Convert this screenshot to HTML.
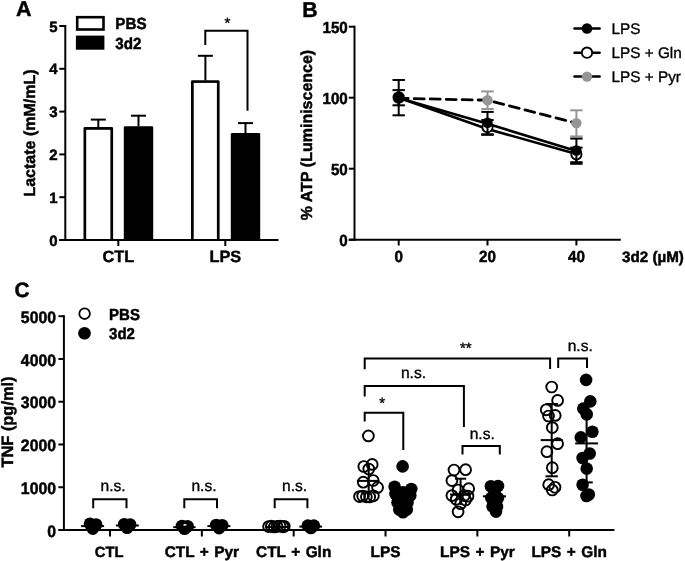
<!DOCTYPE html>
<html><head><meta charset="utf-8"><style>
html,body{margin:0;padding:0;background:#fff;}
svg{display:block;font-family:"Liberation Sans",sans-serif;-webkit-font-smoothing:antialiased;will-change:transform;filter:blur(0.45px);}
text{text-rendering:geometricPrecision;}
</style></head><body>
<svg width="685" height="561" viewBox="0 0 685 561">
<rect width="685" height="561" fill="#fff"/>
<text x="16" y="16" font-size="21.5" font-weight="bold" text-anchor="start" fill="#000" stroke="#000" stroke-width="0.45" >A</text>
<rect x="83.5" y="127.1" width="29.599999999999994" height="112.9" rx="1.3" fill="#000"/>
<rect x="86.2" y="129.79999999999998" width="24.199999999999996" height="110.2" fill="#fff"/>
<rect x="123.8" y="126.2" width="29.39999999999999" height="113.8" rx="1.3" fill="#000"/>
<rect x="191.0" y="80.2" width="28.599999999999994" height="159.8" rx="1.3" fill="#000"/>
<rect x="193.7" y="82.9" width="23.199999999999996" height="157.10000000000002" fill="#fff"/>
<rect x="230.8" y="132.9" width="29.399999999999977" height="107.1" rx="1.3" fill="#000"/>
<line x1="98.3" y1="127.5" x2="98.3" y2="119.6" stroke="#000" stroke-width="2" />
<line x1="90.8" y1="119.6" x2="105.8" y2="119.6" stroke="#000" stroke-width="2" />
<line x1="138.5" y1="126.5" x2="138.5" y2="115.7" stroke="#000" stroke-width="2" />
<line x1="131.0" y1="115.7" x2="146.0" y2="115.7" stroke="#000" stroke-width="2" />
<line x1="205.4" y1="80.5" x2="205.4" y2="55.8" stroke="#000" stroke-width="2" />
<line x1="197.9" y1="55.8" x2="212.9" y2="55.8" stroke="#000" stroke-width="2" />
<line x1="245.5" y1="133.2" x2="245.5" y2="123.1" stroke="#000" stroke-width="2" />
<line x1="238.0" y1="123.1" x2="253.0" y2="123.1" stroke="#000" stroke-width="2" />
<line x1="65.3" y1="25.0" x2="65.3" y2="241.0" stroke="#000" stroke-width="2" />
<line x1="59.3" y1="240.0" x2="65.3" y2="240.0" stroke="#000" stroke-width="2" />
<text x="57.6" y="245.6" font-size="15" font-weight="bold" text-anchor="end" fill="#000" stroke="#000" stroke-width="0.45" >0</text>
<line x1="59.3" y1="197.2" x2="65.3" y2="197.2" stroke="#000" stroke-width="2" />
<text x="57.6" y="202.79999999999998" font-size="15" font-weight="bold" text-anchor="end" fill="#000" stroke="#000" stroke-width="0.45" >1</text>
<line x1="59.3" y1="154.4" x2="65.3" y2="154.4" stroke="#000" stroke-width="2" />
<text x="57.6" y="160.0" font-size="15" font-weight="bold" text-anchor="end" fill="#000" stroke="#000" stroke-width="0.45" >2</text>
<line x1="59.3" y1="111.6" x2="65.3" y2="111.6" stroke="#000" stroke-width="2" />
<text x="57.6" y="117.19999999999999" font-size="15" font-weight="bold" text-anchor="end" fill="#000" stroke="#000" stroke-width="0.45" >3</text>
<line x1="59.3" y1="68.80000000000001" x2="65.3" y2="68.80000000000001" stroke="#000" stroke-width="2" />
<text x="57.6" y="74.4" font-size="15" font-weight="bold" text-anchor="end" fill="#000" stroke="#000" stroke-width="0.45" >4</text>
<line x1="59.3" y1="26.0" x2="65.3" y2="26.0" stroke="#000" stroke-width="2" />
<text x="57.6" y="31.6" font-size="15" font-weight="bold" text-anchor="end" fill="#000" stroke="#000" stroke-width="0.45" >5</text>
<line x1="59.3" y1="240.0" x2="278.5" y2="240.0" stroke="#000" stroke-width="2" />
<line x1="118.3" y1="240.0" x2="118.3" y2="246" stroke="#000" stroke-width="2" />
<text x="118.3" y="262.2" font-size="16.3" font-weight="bold" text-anchor="middle" fill="#000" stroke="#000" stroke-width="0.45" >CTL</text>
<line x1="225.3" y1="240.0" x2="225.3" y2="246" stroke="#000" stroke-width="2" />
<text x="225.3" y="262.2" font-size="16.3" font-weight="bold" text-anchor="middle" fill="#000" stroke="#000" stroke-width="0.45" >LPS</text>
<path d="M205.3,45 V30.7 H247.5 V110.7" fill="none" stroke="#000" stroke-width="2"/>
<text x="227.5" y="27.6" font-size="15"  text-anchor="middle" fill="#000" stroke="#000" stroke-width="0.35" >*</text>
<rect x="75.9" y="15.9" width="28.9" height="14.9" fill="#000"/>
<rect x="78.5" y="18.5" width="23.7" height="9.7" fill="#fff"/>
<rect x="75.9" y="35.6" width="28.5" height="14.1" fill="#000"/>
<text x="0" y="0" font-size="15.2" font-weight="bold" text-anchor="start" stroke="#000" stroke-width="0.45" transform="translate(115.3,29.3) scale(1,1.05)">PBS</text>
<text x="0" y="0" font-size="15.2" font-weight="bold" text-anchor="start" stroke="#000" stroke-width="0.45" transform="translate(115.3,48.9) scale(1,1.05)">3d2</text>
<text x="0" y="0" font-size="16" font-weight="bold" text-anchor="middle" stroke="#000" stroke-width="0.45" transform="translate(35.3,133) rotate(-90)">Lactate (mM/mL)</text>
<text x="302.3" y="16.9" font-size="21.3" font-weight="bold" text-anchor="start" fill="#000" stroke="#000" stroke-width="0.45" >B</text>
<line x1="354.5" y1="25.7" x2="354.5" y2="240.7" stroke="#000" stroke-width="2" />
<line x1="348.8" y1="239.7" x2="354.5" y2="239.7" stroke="#000" stroke-width="2" />
<text x="0" y="0" font-size="15.2" font-weight="bold" text-anchor="end" stroke="#000" stroke-width="0.45" transform="translate(347.8,245.6) scale(1,1.06)">0</text>
<line x1="348.8" y1="168.7" x2="354.5" y2="168.7" stroke="#000" stroke-width="2" />
<text x="0" y="0" font-size="15.2" font-weight="bold" text-anchor="end" stroke="#000" stroke-width="0.45" transform="translate(347.8,174.6) scale(1,1.06)">50</text>
<line x1="348.8" y1="97.69999999999999" x2="354.5" y2="97.69999999999999" stroke="#000" stroke-width="2" />
<text x="0" y="0" font-size="15.2" font-weight="bold" text-anchor="end" stroke="#000" stroke-width="0.45" transform="translate(347.8,103.6) scale(1,1.06)">100</text>
<line x1="348.8" y1="26.69999999999999" x2="354.5" y2="26.69999999999999" stroke="#000" stroke-width="2" />
<text x="0" y="0" font-size="15.2" font-weight="bold" text-anchor="end" stroke="#000" stroke-width="0.45" transform="translate(347.8,32.59999999999999) scale(1,1.06)">150</text>
<line x1="348.8" y1="239.7" x2="620.8" y2="239.7" stroke="#000" stroke-width="2" />
<line x1="398.7" y1="239.7" x2="398.7" y2="245.5" stroke="#000" stroke-width="2" />
<text x="0" y="0" font-size="15.2" font-weight="bold" text-anchor="middle" stroke="#000" stroke-width="0.45" transform="translate(398.7,261.7) scale(1,1.06)">0</text>
<line x1="487.5" y1="239.7" x2="487.5" y2="245.5" stroke="#000" stroke-width="2" />
<text x="0" y="0" font-size="15.2" font-weight="bold" text-anchor="middle" stroke="#000" stroke-width="0.45" transform="translate(487.5,261.7) scale(1,1.06)">20</text>
<line x1="576.4" y1="239.7" x2="576.4" y2="245.5" stroke="#000" stroke-width="2" />
<text x="0" y="0" font-size="15.2" font-weight="bold" text-anchor="middle" stroke="#000" stroke-width="0.45" transform="translate(576.4,261.7) scale(1,1.06)">40</text>
<text x="622" y="261.6" font-size="15.2" font-weight="bold" text-anchor="start" fill="#000" stroke="#000" stroke-width="0.45" >3d2 (µM)</text>
<text x="0" y="0" font-size="16" font-weight="bold" text-anchor="middle" stroke="#000" stroke-width="0.45" transform="translate(311.6,135) rotate(-90)">% ATP (Luminiscence)</text>
<line x1="487.5" y1="91.4" x2="487.5" y2="109.0" stroke="#959595" stroke-width="2" />
<line x1="481.3" y1="91.4" x2="493.7" y2="91.4" stroke="#959595" stroke-width="2" />
<line x1="481.3" y1="109.0" x2="493.7" y2="109.0" stroke="#959595" stroke-width="2" />
<line x1="576.4" y1="110.3" x2="576.4" y2="136.4" stroke="#959595" stroke-width="2" />
<line x1="570.1999999999999" y1="110.3" x2="582.6" y2="110.3" stroke="#959595" stroke-width="2" />
<line x1="570.1999999999999" y1="136.4" x2="582.6" y2="136.4" stroke="#959595" stroke-width="2" />
<polyline points="398.7,98.3 487.5,100.2 576.4,123.1" fill="none" stroke="#000" stroke-width="2.8" stroke-linecap="round" stroke-dasharray="10 6" stroke-dashoffset="0.5"/>
<circle cx="487.5" cy="100.2" r="5.2" fill="#959595" stroke="none" stroke-width="0"/>
<circle cx="576.4" cy="123.1" r="5.2" fill="#959595" stroke="none" stroke-width="0"/>
<polyline points="398.7,97.8 487.5,129.0 576.4,154.0" fill="none" stroke="#000" stroke-width="2.6"/>
<line x1="398.7" y1="90.1" x2="398.7" y2="105.3" stroke="#000" stroke-width="2" />
<line x1="392.5" y1="90.1" x2="404.9" y2="90.1" stroke="#000" stroke-width="2" />
<line x1="392.5" y1="105.3" x2="404.9" y2="105.3" stroke="#000" stroke-width="2" />
<line x1="487.5" y1="120.0" x2="487.5" y2="134.3" stroke="#000" stroke-width="2" />
<line x1="481.3" y1="120.0" x2="493.7" y2="120.0" stroke="#000" stroke-width="2" />
<line x1="481.3" y1="134.3" x2="493.7" y2="134.3" stroke="#000" stroke-width="2" />
<line x1="576.4" y1="147.6" x2="576.4" y2="162.2" stroke="#000" stroke-width="2" />
<line x1="570.1999999999999" y1="147.6" x2="582.6" y2="147.6" stroke="#000" stroke-width="2" />
<line x1="570.1999999999999" y1="162.2" x2="582.6" y2="162.2" stroke="#000" stroke-width="2" />
<circle cx="487.5" cy="127.2" r="5.1" fill="#fff" stroke="#000" stroke-width="1.9"/>
<circle cx="576.4" cy="154.4" r="5.1" fill="#fff" stroke="#000" stroke-width="1.9"/>
<polyline points="398.7,98.1 487.5,123.8 576.4,151.0" fill="none" stroke="#000" stroke-width="2.6"/>
<line x1="398.7" y1="80.0" x2="398.7" y2="115.3" stroke="#000" stroke-width="2" />
<line x1="392.5" y1="80.0" x2="404.9" y2="80.0" stroke="#000" stroke-width="2" />
<line x1="392.5" y1="115.3" x2="404.9" y2="115.3" stroke="#000" stroke-width="2" />
<line x1="487.5" y1="111.9" x2="487.5" y2="134.8" stroke="#000" stroke-width="2" />
<line x1="481.3" y1="111.9" x2="493.7" y2="111.9" stroke="#000" stroke-width="2" />
<line x1="481.3" y1="134.8" x2="493.7" y2="134.8" stroke="#000" stroke-width="2" />
<line x1="576.4" y1="138.6" x2="576.4" y2="163.8" stroke="#000" stroke-width="2" />
<line x1="570.1999999999999" y1="138.6" x2="582.6" y2="138.6" stroke="#000" stroke-width="2" />
<line x1="570.1999999999999" y1="163.8" x2="582.6" y2="163.8" stroke="#000" stroke-width="2" />
<circle cx="398.7" cy="97.5" r="6.2" fill="#000" stroke="none" stroke-width="0"/>
<circle cx="487.5" cy="122.8" r="5.2" fill="#000" stroke="none" stroke-width="0"/>
<circle cx="576.4" cy="150.5" r="5.2" fill="#000" stroke="none" stroke-width="0"/>
<line x1="574.5" y1="28.55" x2="599.6" y2="28.55" stroke="#000" stroke-width="2.5" stroke-linecap="round"/>
<circle cx="587" cy="28.55" r="5.3" fill="#000" stroke="none" stroke-width="0"/>
<text x="611.6" y="34.15" font-size="15.3"  text-anchor="start" fill="#000" stroke="#000" stroke-width="0.35" >LPS</text>
<line x1="574.5" y1="52.65" x2="599.6" y2="52.65" stroke="#000" stroke-width="2.5" stroke-linecap="round"/>
<circle cx="587" cy="52.65" r="5.2" fill="#fff" stroke="#000" stroke-width="1.9"/>
<text x="611.6" y="58.25" font-size="15.3"  text-anchor="start" fill="#000" stroke="#000" stroke-width="0.35" >LPS + Gln</text>
<line x1="574.5" y1="76.6" x2="599.6" y2="76.6" stroke="#000" stroke-width="2.5" stroke-linecap="round"/>
<circle cx="587" cy="76.6" r="5.2" fill="#959595" stroke="none" stroke-width="0"/>
<text x="611.6" y="82.19999999999999" font-size="15.3"  text-anchor="start" fill="#000" stroke="#000" stroke-width="0.35" >LPS + Pyr</text>
<text x="14.6" y="297.1" font-size="20.8" font-weight="bold" text-anchor="start" fill="#000" stroke="#000" stroke-width="0.45" >C</text>
<line x1="63.9" y1="315.2" x2="63.9" y2="531.0" stroke="#000" stroke-width="2" />
<line x1="58.4" y1="530.0" x2="63.9" y2="530.0" stroke="#000" stroke-width="2" />
<text x="0" y="0" font-size="15.8" font-weight="bold" text-anchor="end" stroke="#000" stroke-width="0.45" transform="translate(56,536.6) scale(1,1.05)">0</text>
<line x1="58.4" y1="487.24" x2="63.9" y2="487.24" stroke="#000" stroke-width="2" />
<text x="0" y="0" font-size="15.8" font-weight="bold" text-anchor="end" stroke="#000" stroke-width="0.45" transform="translate(56,493.84000000000003) scale(1,1.05)">1000</text>
<line x1="58.4" y1="444.48" x2="63.9" y2="444.48" stroke="#000" stroke-width="2" />
<text x="0" y="0" font-size="15.8" font-weight="bold" text-anchor="end" stroke="#000" stroke-width="0.45" transform="translate(56,451.08000000000004) scale(1,1.05)">2000</text>
<line x1="58.4" y1="401.72" x2="63.9" y2="401.72" stroke="#000" stroke-width="2" />
<text x="0" y="0" font-size="15.8" font-weight="bold" text-anchor="end" stroke="#000" stroke-width="0.45" transform="translate(56,408.32000000000005) scale(1,1.05)">3000</text>
<line x1="58.4" y1="358.96000000000004" x2="63.9" y2="358.96000000000004" stroke="#000" stroke-width="2" />
<text x="0" y="0" font-size="15.8" font-weight="bold" text-anchor="end" stroke="#000" stroke-width="0.45" transform="translate(56,365.56000000000006) scale(1,1.05)">4000</text>
<line x1="58.4" y1="316.2" x2="63.9" y2="316.2" stroke="#000" stroke-width="2" />
<text x="0" y="0" font-size="15.8" font-weight="bold" text-anchor="end" stroke="#000" stroke-width="0.45" transform="translate(56,322.8) scale(1,1.05)">5000</text>
<line x1="58.4" y1="530.0" x2="614.4" y2="530.0" stroke="#000" stroke-width="2" />
<line x1="110.0" y1="530.0" x2="110.0" y2="536.5" stroke="#000" stroke-width="2" />
<text x="109.2" y="556.5" font-size="14.8" font-weight="bold" text-anchor="middle" fill="#000" stroke="#000" stroke-width="0.45" >CTL</text>
<line x1="201.84" y1="530.0" x2="201.84" y2="536.5" stroke="#000" stroke-width="2" />
<text x="201.84" y="556.5" font-size="15.4" font-weight="bold" text-anchor="middle" fill="#000" stroke="#000" stroke-width="0.45" word-spacing="1.2">CTL + Pyr</text>
<line x1="293.68" y1="530.0" x2="293.68" y2="536.5" stroke="#000" stroke-width="2" />
<text x="293.68" y="556.5" font-size="15.4" font-weight="bold" text-anchor="middle" fill="#000" stroke="#000" stroke-width="0.45" word-spacing="1.2">CTL + Gln</text>
<line x1="385.52" y1="530.0" x2="385.52" y2="536.5" stroke="#000" stroke-width="2" />
<text x="385.52" y="556.5" font-size="15.4" font-weight="bold" text-anchor="middle" fill="#000" stroke="#000" stroke-width="0.45" >LPS</text>
<line x1="477.36" y1="530.0" x2="477.36" y2="536.5" stroke="#000" stroke-width="2" />
<text x="477.36" y="556.5" font-size="15.4" font-weight="bold" text-anchor="middle" fill="#000" stroke="#000" stroke-width="0.45" word-spacing="1.2">LPS + Pyr</text>
<line x1="569.2" y1="530.0" x2="569.2" y2="536.5" stroke="#000" stroke-width="2" />
<text x="569.2" y="556.5" font-size="15.4" font-weight="bold" text-anchor="middle" fill="#000" stroke="#000" stroke-width="0.45" word-spacing="1.2">LPS + Gln</text>
<text x="0" y="0" font-size="16.4" font-weight="bold" text-anchor="middle" stroke="#000" stroke-width="0.45" transform="translate(12.9,422) rotate(-90)">TNF (pg/ml)</text>
<circle cx="84.6" cy="313.7" r="5.3" fill="#fff" stroke="#000" stroke-width="1.8"/>
<circle cx="84.5" cy="333.2" r="6.3" fill="#000" stroke="none" stroke-width="0"/>
<text x="0" y="0" font-size="15" font-weight="bold" text-anchor="start" stroke="#000" stroke-width="0.45" transform="translate(109.1,319.5) scale(1,1.06)">PBS</text>
<text x="0" y="0" font-size="15" font-weight="bold" text-anchor="start" stroke="#000" stroke-width="0.45" transform="translate(109.1,338.7) scale(1,1.06)">3d2</text>
<path d="M93.2,508.3 V499.2 H126.5 V508.3" fill="none" stroke="#000" stroke-width="2"/>
<path d="M184.3,508.3 V499.2 H217 V508.3" fill="none" stroke="#000" stroke-width="2"/>
<path d="M274.7,508.3 V499.2 H307.4 V508.3" fill="none" stroke="#000" stroke-width="2"/>
<text x="113.1" y="491.3" font-size="15.6"  text-anchor="middle" fill="#000" stroke="#000" stroke-width="0.35" >n.s.</text>
<text x="204" y="491.3" font-size="15.6"  text-anchor="middle" fill="#000" stroke="#000" stroke-width="0.35" >n.s.</text>
<text x="294.6" y="491.3" font-size="15.6"  text-anchor="middle" fill="#000" stroke="#000" stroke-width="0.35" >n.s.</text>
<path d="M364.7,369.2 V358.5 H550.1 V368.9" fill="none" stroke="#000" stroke-width="2"/>
<text x="465.8" y="353.4" font-size="15"  text-anchor="middle" fill="#000" stroke="#000" stroke-width="0.35" >**</text>
<path d="M558.2,368 V358.5 H587 V368" fill="none" stroke="#000" stroke-width="2"/>
<text x="580.2" y="350.9" font-size="15.6"  text-anchor="middle" fill="#000" stroke="#000" stroke-width="0.35" >n.s.</text>
<path d="M364.7,396.6 V386.1 H463.9 V427" fill="none" stroke="#000" stroke-width="2"/>
<text x="413.5" y="378.1" font-size="15.6"  text-anchor="middle" fill="#000" stroke="#000" stroke-width="0.35" >n.s.</text>
<path d="M364.7,421.5 V412.7 H403.3 V450" fill="none" stroke="#000" stroke-width="2"/>
<text x="382.2" y="408.3" font-size="15"  text-anchor="middle" fill="#000" stroke="#000" stroke-width="0.35" >*</text>
<path d="M462.5,454.6 V446 H499.8 V454.6" fill="none" stroke="#000" stroke-width="2"/>
<text x="482.2" y="438.8" font-size="15.6"  text-anchor="middle" fill="#000" stroke="#000" stroke-width="0.35" >n.s.</text>
<line x1="81.1" y1="526.1" x2="104.1" y2="526.1" stroke="#000" stroke-width="2" />
<circle cx="90" cy="523.8" r="6.3" fill="#000" stroke="none" stroke-width="0"/>
<circle cx="96.1" cy="524.5" r="6.3" fill="#000" stroke="none" stroke-width="0"/>
<circle cx="92.8" cy="528.6" r="6.3" fill="#000" stroke="none" stroke-width="0"/>
<circle cx="93" cy="526" r="6.3" fill="#000" stroke="none" stroke-width="0"/>
<line x1="115.9" y1="525.5" x2="138.8" y2="525.5" stroke="#000" stroke-width="2" />
<circle cx="124.2" cy="524.2" r="6.3" fill="#000" stroke="none" stroke-width="0"/>
<circle cx="130.1" cy="524.5" r="6.3" fill="#000" stroke="none" stroke-width="0"/>
<circle cx="127.1" cy="527.8" r="6.3" fill="#000" stroke="none" stroke-width="0"/>
<circle cx="127" cy="525.5" r="6.3" fill="#000" stroke="none" stroke-width="0"/>
<line x1="173.2" y1="527.2" x2="195.6" y2="527.2" stroke="#000" stroke-width="2" />
<circle cx="182" cy="526" r="6.3" fill="#000" stroke="none" stroke-width="0"/>
<circle cx="187.6" cy="526.2" r="6.3" fill="#000" stroke="none" stroke-width="0"/>
<circle cx="184.6" cy="528.7" r="6.3" fill="#000" stroke="none" stroke-width="0"/>
<circle cx="184.8" cy="527" r="6.3" fill="#000" stroke="none" stroke-width="0"/>
<ellipse cx="184.9" cy="524.9" rx="1.7" ry="0.8" fill="#fff"/>
<line x1="207.4" y1="526.1" x2="230.4" y2="526.1" stroke="#000" stroke-width="2" />
<circle cx="216.2" cy="525" r="6.3" fill="#000" stroke="none" stroke-width="0"/>
<circle cx="222.2" cy="525.2" r="6.3" fill="#000" stroke="none" stroke-width="0"/>
<circle cx="219.1" cy="528.1" r="6.3" fill="#000" stroke="none" stroke-width="0"/>
<circle cx="219" cy="526.5" r="6.3" fill="#000" stroke="none" stroke-width="0"/>
<line x1="265" y1="527" x2="288" y2="527" stroke="#000" stroke-width="2" />
<circle cx="268.6" cy="526.6" r="5.4" fill="none" stroke="#000" stroke-width="1.9"/>
<circle cx="271.4" cy="526.2" r="5.4" fill="none" stroke="#000" stroke-width="1.9"/>
<circle cx="274.3" cy="527.0" r="5.4" fill="none" stroke="#000" stroke-width="1.9"/>
<circle cx="277.0" cy="526.4" r="5.4" fill="none" stroke="#000" stroke-width="1.9"/>
<circle cx="280.0" cy="526.0" r="5.4" fill="none" stroke="#000" stroke-width="1.9"/>
<circle cx="283.0" cy="526.8" r="5.4" fill="none" stroke="#000" stroke-width="1.9"/>
<circle cx="284.3" cy="526.3" r="5.4" fill="none" stroke="#000" stroke-width="1.9"/>
<line x1="299.4" y1="526.6" x2="322" y2="526.6" stroke="#000" stroke-width="2" />
<circle cx="307.8" cy="525.6" r="6.3" fill="#000" stroke="none" stroke-width="0"/>
<circle cx="313.9" cy="525.6" r="6.3" fill="#000" stroke="none" stroke-width="0"/>
<circle cx="310.9" cy="528" r="6.3" fill="#000" stroke="none" stroke-width="0"/>
<circle cx="311" cy="526.5" r="6.3" fill="#000" stroke="none" stroke-width="0"/>
<circle cx="368.4" cy="435.9" r="5.4" fill="none" stroke="#000" stroke-width="1.9"/>
<circle cx="363.8" cy="466.5" r="5.4" fill="none" stroke="#000" stroke-width="1.9"/>
<circle cx="372.2" cy="464.4" r="5.4" fill="none" stroke="#000" stroke-width="1.9"/>
<circle cx="368.8" cy="469" r="5.4" fill="none" stroke="#000" stroke-width="1.9"/>
<circle cx="363.3" cy="482.2" r="5.4" fill="none" stroke="#000" stroke-width="1.9"/>
<circle cx="373.2" cy="480.5" r="5.4" fill="none" stroke="#000" stroke-width="1.9"/>
<circle cx="377.6" cy="487.4" r="5.4" fill="none" stroke="#000" stroke-width="1.9"/>
<circle cx="359.5" cy="496.6" r="5.4" fill="none" stroke="#000" stroke-width="1.9"/>
<circle cx="362.7" cy="496" r="5.4" fill="none" stroke="#000" stroke-width="1.9"/>
<circle cx="366.4" cy="496.8" r="5.4" fill="none" stroke="#000" stroke-width="1.9"/>
<circle cx="369.7" cy="497" r="5.4" fill="none" stroke="#000" stroke-width="1.9"/>
<circle cx="373.4" cy="495.8" r="5.4" fill="none" stroke="#000" stroke-width="1.9"/>
<line x1="368.7" y1="463" x2="368.7" y2="497" stroke="#000" stroke-width="2" />
<line x1="356.9" y1="480.9" x2="379.2" y2="480.9" stroke="#000" stroke-width="2" />
<circle cx="402.6" cy="466.4" r="6.3" fill="#000" stroke="none" stroke-width="0"/>
<circle cx="394.6" cy="486.8" r="6.3" fill="#000" stroke="none" stroke-width="0"/>
<circle cx="411.3" cy="489" r="6.3" fill="#000" stroke="none" stroke-width="0"/>
<circle cx="403" cy="492.3" r="6.3" fill="#000" stroke="none" stroke-width="0"/>
<circle cx="395.5" cy="494" r="6.3" fill="#000" stroke="none" stroke-width="0"/>
<circle cx="400" cy="494.5" r="6.3" fill="#000" stroke="none" stroke-width="0"/>
<circle cx="406" cy="494.5" r="6.3" fill="#000" stroke="none" stroke-width="0"/>
<circle cx="410.3" cy="495.5" r="6.3" fill="#000" stroke="none" stroke-width="0"/>
<circle cx="397.5" cy="502.5" r="6.3" fill="#000" stroke="none" stroke-width="0"/>
<circle cx="407.5" cy="502.5" r="6.3" fill="#000" stroke="none" stroke-width="0"/>
<circle cx="399.3" cy="509.5" r="6.3" fill="#000" stroke="none" stroke-width="0"/>
<circle cx="406.8" cy="509.5" r="6.3" fill="#000" stroke="none" stroke-width="0"/>
<circle cx="403" cy="512.3" r="6.3" fill="#000" stroke="none" stroke-width="0"/>
<circle cx="454" cy="470" r="5.4" fill="none" stroke="#000" stroke-width="1.9"/>
<circle cx="465.6" cy="469.7" r="5.4" fill="none" stroke="#000" stroke-width="1.9"/>
<circle cx="451.9" cy="480.6" r="5.4" fill="none" stroke="#000" stroke-width="1.9"/>
<circle cx="468.7" cy="488.7" r="5.4" fill="none" stroke="#000" stroke-width="1.9"/>
<circle cx="458.1" cy="490" r="5.4" fill="none" stroke="#000" stroke-width="1.9"/>
<circle cx="451.9" cy="495.6" r="5.4" fill="none" stroke="#000" stroke-width="1.9"/>
<circle cx="464.3" cy="495.6" r="5.4" fill="none" stroke="#000" stroke-width="1.9"/>
<circle cx="456.2" cy="499.3" r="5.4" fill="none" stroke="#000" stroke-width="1.9"/>
<circle cx="465.6" cy="500" r="5.4" fill="none" stroke="#000" stroke-width="1.9"/>
<circle cx="460.6" cy="503.7" r="5.4" fill="none" stroke="#000" stroke-width="1.9"/>
<circle cx="458.1" cy="511.8" r="5.4" fill="none" stroke="#000" stroke-width="1.9"/>
<circle cx="468" cy="496.2" r="5.4" fill="none" stroke="#000" stroke-width="1.9"/>
<line x1="460.6" y1="478.7" x2="460.6" y2="505" stroke="#000" stroke-width="2" />
<line x1="455" y1="478.7" x2="466.2" y2="478.7" stroke="#000" stroke-width="2" />
<line x1="450" y1="494.5" x2="471" y2="494.5" stroke="#000" stroke-width="2" />
<line x1="482.9" y1="496.3" x2="506" y2="496.3" stroke="#000" stroke-width="2" />
<circle cx="490.9" cy="486.3" r="6.3" fill="#000" stroke="none" stroke-width="0"/>
<circle cx="498" cy="486" r="6.3" fill="#000" stroke="none" stroke-width="0"/>
<circle cx="494.5" cy="491" r="6.3" fill="#000" stroke="none" stroke-width="0"/>
<circle cx="494.9" cy="497.8" r="6.3" fill="#000" stroke="none" stroke-width="0"/>
<circle cx="491.3" cy="498" r="6.3" fill="#000" stroke="none" stroke-width="0"/>
<circle cx="498" cy="498" r="6.3" fill="#000" stroke="none" stroke-width="0"/>
<circle cx="492.6" cy="506.5" r="6.3" fill="#000" stroke="none" stroke-width="0"/>
<circle cx="497" cy="506.5" r="6.3" fill="#000" stroke="none" stroke-width="0"/>
<circle cx="496" cy="511.6" r="6.3" fill="#000" stroke="none" stroke-width="0"/>
<line x1="551.7" y1="404" x2="551.7" y2="476.3" stroke="#000" stroke-width="2" />
<line x1="540.7" y1="440.1" x2="562.7" y2="440.1" stroke="#000" stroke-width="2" />
<line x1="545.5" y1="404" x2="557.9000000000001" y2="404" stroke="#000" stroke-width="2" />
<line x1="545.5" y1="476.3" x2="557.9000000000001" y2="476.3" stroke="#000" stroke-width="2" />
<circle cx="551.7" cy="387" r="5.4" fill="none" stroke="#000" stroke-width="1.9"/>
<circle cx="557.6" cy="400.4" r="5.4" fill="none" stroke="#000" stroke-width="1.9"/>
<circle cx="546.2" cy="409.8" r="5.4" fill="none" stroke="#000" stroke-width="1.9"/>
<circle cx="548.5" cy="416" r="5.4" fill="none" stroke="#000" stroke-width="1.9"/>
<circle cx="555.2" cy="415.4" r="5.4" fill="none" stroke="#000" stroke-width="1.9"/>
<circle cx="552.3" cy="427.6" r="5.4" fill="none" stroke="#000" stroke-width="1.9"/>
<circle cx="557.6" cy="443.7" r="5.4" fill="none" stroke="#000" stroke-width="1.9"/>
<circle cx="546.9" cy="451.7" r="5.4" fill="none" stroke="#000" stroke-width="1.9"/>
<circle cx="552.3" cy="467.7" r="5.4" fill="none" stroke="#000" stroke-width="1.9"/>
<circle cx="548.7" cy="484.7" r="5.4" fill="none" stroke="#000" stroke-width="1.9"/>
<circle cx="555" cy="487.3" r="5.4" fill="none" stroke="#000" stroke-width="1.9"/>
<circle cx="552.3" cy="490" r="5.4" fill="none" stroke="#000" stroke-width="1.9"/>
<line x1="586.6" y1="404" x2="586.6" y2="482.4" stroke="#000" stroke-width="2" />
<line x1="575.2" y1="443.4" x2="598.0" y2="443.4" stroke="#000" stroke-width="2" />
<line x1="580.4" y1="404" x2="592.8000000000001" y2="404" stroke="#000" stroke-width="2" />
<line x1="580.4" y1="482.4" x2="592.8000000000001" y2="482.4" stroke="#000" stroke-width="2" />
<circle cx="586.1" cy="379.9" r="6.3" fill="#000" stroke="none" stroke-width="0"/>
<circle cx="590.3" cy="401.4" r="6.3" fill="#000" stroke="none" stroke-width="0"/>
<circle cx="583.3" cy="408.6" r="6.3" fill="#000" stroke="none" stroke-width="0"/>
<circle cx="586.7" cy="414.2" r="6.3" fill="#000" stroke="none" stroke-width="0"/>
<circle cx="592.4" cy="431.7" r="6.3" fill="#000" stroke="none" stroke-width="0"/>
<circle cx="580.8" cy="437.4" r="6.3" fill="#000" stroke="none" stroke-width="0"/>
<circle cx="589.7" cy="453.5" r="6.3" fill="#000" stroke="none" stroke-width="0"/>
<circle cx="582.6" cy="458" r="6.3" fill="#000" stroke="none" stroke-width="0"/>
<circle cx="586.7" cy="468.6" r="6.3" fill="#000" stroke="none" stroke-width="0"/>
<circle cx="582.6" cy="484.7" r="6.3" fill="#000" stroke="none" stroke-width="0"/>
<circle cx="588.8" cy="494.5" r="6.3" fill="#000" stroke="none" stroke-width="0"/>
<circle cx="586.5" cy="496" r="6.3" fill="#000" stroke="none" stroke-width="0"/>
</svg>
</body></html>
